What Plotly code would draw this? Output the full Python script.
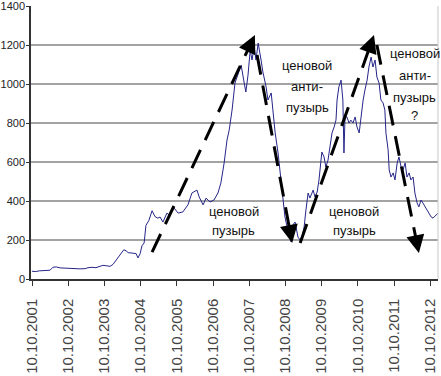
import plotly.graph_objects as go

# ---- data (decimal years, index values) ----
years = [2001.77, 2001.86, 2001.99, 2002.13, 2002.27, 2002.35, 2002.44, 2002.55, 2002.69, 2002.82,
         2002.96, 2003.10, 2003.24, 2003.32, 2003.43, 2003.54, 2003.65, 2003.73, 2003.82, 2003.93,
         2004.01, 2004.09, 2004.18, 2004.26, 2004.31, 2004.37, 2004.43, 2004.54, 2004.65, 2004.70,
         2004.76, 2004.81, 2004.87, 2004.92, 2005.00, 2005.09, 2005.17, 2005.25, 2005.31, 2005.39,
         2005.50, 2005.58, 2005.67, 2005.81, 2005.94, 2006.08, 2006.19, 2006.33, 2006.39, 2006.50,
         2006.58, 2006.69, 2006.80, 2006.91, 2006.99, 2007.08, 2007.16, 2007.22, 2007.30, 2007.38,
         2007.44, 2007.49, 2007.55, 2007.63, 2007.68, 2007.74, 2007.80, 2007.85, 2007.91, 2007.96,
         2008.02, 2008.10, 2008.15, 2008.24, 2008.29, 2008.38, 2008.43, 2008.49, 2008.57, 2008.65,
         2008.71, 2008.76, 2008.82, 2008.87, 2008.93, 2008.98, 2009.04, 2009.12, 2009.18, 2009.23,
         2009.29, 2009.34, 2009.40, 2009.45, 2009.54, 2009.59, 2009.65, 2009.70, 2009.76, 2009.78,
         2009.84, 2009.89, 2009.95, 2010.00, 2010.06, 2010.12, 2010.17, 2010.20, 2010.25, 2010.31,
         2010.36, 2010.39, 2010.42, 2010.47, 2010.53, 2010.58, 2010.64, 2010.70, 2010.75, 2010.81,
         2010.86, 2010.92, 2010.97, 2011.03, 2011.08, 2011.14, 2011.19, 2011.25, 2011.30, 2011.36,
         2011.41, 2011.47, 2011.52, 2011.55, 2011.61, 2011.64, 2011.69, 2011.75, 2011.80, 2011.86,
         2011.91, 2011.97, 2012.02, 2012.08, 2012.13, 2012.19, 2012.24, 2012.30, 2012.35, 2012.41,
         2012.46, 2012.52, 2012.57, 2012.63, 2012.68, 2012.74, 2012.80, 2012.85, 2012.93, 2012.99]
values = [40, 38, 42, 45, 45, 60, 62, 57, 55, 53,
          52, 52, 53, 58, 60, 58, 65, 70, 68, 65,
          75, 95, 115, 140, 150, 145, 135, 133, 130, 108,
          130, 170, 185, 275, 300, 350, 320, 312, 318, 292,
          338, 325, 370, 338, 344, 380, 441, 456, 421, 380,
          415, 395, 405, 441, 492, 595, 713, 764, 867, 1005,
          1036, 1072, 1097, 1010, 959, 1046, 1174, 1123, 1190, 1123,
          1210, 1123, 1062, 985, 918, 954, 851, 749, 646, 508,
          405, 318, 267, 236, 190, 277, 292, 215, 200, 215,
          267, 354, 441, 415, 456, 421, 446, 508, 610, 651,
          626, 574, 610, 677, 749, 780, 815, 918, 985, 1020,
          918, 646, 831, 831, 800, 815, 800, 831, 780, 749,
          831, 918, 969, 1020, 1087, 1138, 1087, 1123, 1036, 1005,
          918, 903, 867, 749, 662, 559, 523, 544, 508, 595,
          626, 574, 559, 595, 523, 544, 508, 523, 441, 390,
          370, 405, 390, 370, 354, 338, 318, 312, 328, 338]

tick_years = [2001.773 + i for i in range(12)]
tick_labels = ["10.10.%d" % (2001 + i) for i in range(12)]
y_ticks = [0, 200, 400, 600, 800, 1000, 1200, 1400]

# annotation texts (one entry per line)
note_text = ["ценовой", "пузырь",
             "ценовой", "анти-", "пузырь",
             "ценовой", "пузырь",
             "ценовой", "анти-", "пузырь", "?"]
note_x = [2007.35, 2007.35,
          2009.37, 2009.37, 2009.37,
          2010.67, 2010.67,
          2012.35, 2012.35, 2012.35, 2012.35]
note_y = [344, 251,
          1097, 985, 877,
          344, 251,
          1159, 1046, 933, 841]

# dashed arrows: start -> tip
arrow_start_yr = [2005.09, 2007.99, 2009.18, 2011.30]
arrow_start_val = [138, 1149, 185, 1200]
arrow_tip_yr = [2007.93, 2008.96, 2011.22, 2012.46]
arrow_tip_val = [1251, 185, 1251, 133]

# ---- layout geometry ----
W, H = 441, 376
ML, MR, MT, MB = 31, 3, 6, 97
x_range = [2001.745, 2012.988]
y_range = [0, 1400]
pw, ph = W - ML - MR, H - MT - MB
sx = pw / (x_range[1] - x_range[0])
sy = ph / (y_range[1] - y_range[0])

sans = "Liberation Sans, Arial, sans-serif"

fig = go.Figure()
fig.add_trace(go.Scatter(x=years, y=values, mode="lines",
                         line=dict(color="#25258a", width=1), showlegend=False,
                         hoverinfo="skip"))

shapes = []
annotations = []
head_len = 13
for xs, ys, xt, yt in zip(arrow_start_yr, arrow_start_val, arrow_tip_yr, arrow_tip_val):
    dxp = (xt - xs) * sx
    dyp = -(yt - ys) * sy
    L = (dxp ** 2 + dyp ** 2) ** 0.5
    ux, uy = dxp / L, dyp / L
    ex = xt - ux * head_len / sx
    ey = yt + uy * head_len / sy
    shapes.append(dict(type="line", xref="x", yref="y", x0=xs, y0=ys, x1=ex, y1=ey,
                       line=dict(color="black", width=3, dash="20px,11px")))
    annotations.append(dict(x=xt, y=yt, xref="x", yref="y", text="", showarrow=True,
                            ax=-ux * (head_len + 2), ay=-uy * (head_len + 2),
                            arrowhead=2, arrowsize=1.2, arrowwidth=3, arrowcolor="black",
                            standoff=0, startstandoff=0))

for t, x, y in zip(note_text, note_x, note_y):
    annotations.append(dict(x=x, y=y, xref="x", yref="y", text=t, showarrow=False,
                            font=dict(family=sans, size=13, color="#111"),
                            xanchor="center", yanchor="middle"))

fig.update_layout(
    width=W, height=H,
    margin=dict(l=ML, r=MR, t=MT, b=MB, pad=0, autoexpand=False),
    paper_bgcolor="white", plot_bgcolor="white",
    shapes=shapes, annotations=annotations,
    xaxis=dict(range=x_range, tickmode="array", tickvals=tick_years, ticktext=tick_labels,
               tickangle=-90, ticks="outside", ticklen=5, tickcolor="#333",
               showgrid=False, zeroline=False, showline=True, linecolor="#333", linewidth=1.5,
               mirror=False, ticklabelstandoff=7, automargin=False, ticklabeloverflow="allow",
               tickfont=dict(family=sans, size=15, color="#444")),
    yaxis=dict(range=y_range, tickmode="array", tickvals=y_ticks,
               ticks="outside", ticklen=3, tickcolor="#333", automargin=False,
               ticklabelstandoff=-1, ticklabeloverflow="allow",
               showgrid=True, gridcolor="#a3a3a3", gridwidth=2, zeroline=False,
               showline=True, linecolor="#333", linewidth=1.5,
               tickfont=dict(family=sans, size=11, color="#222")),
)
fig.add_shape(type="line", xref="paper", yref="paper", x0=1, x1=1, y0=0, y1=1,
              line=dict(color="#c8c8c8", width=1))

fig.write_html("out.html", config={"displayModeBar": False},
               post_script="document.body.style.margin='0px';document.body.style.overflow='hidden';")
